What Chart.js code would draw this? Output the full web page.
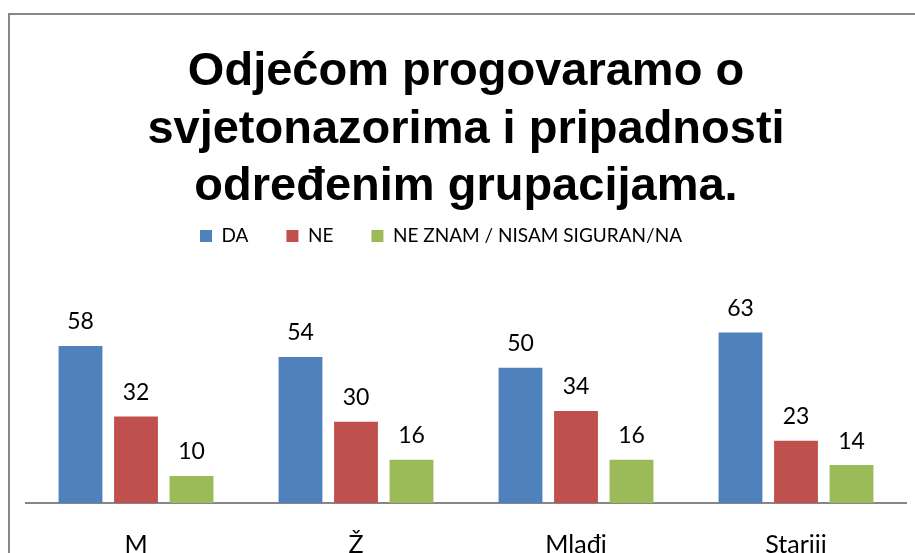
<!DOCTYPE html>
<html>
<head>
<meta charset="utf-8">
<script src="https://cdn.jsdelivr.net/npm/chart.js@4"></script>
<style>
  html, body { margin: 0; padding: 0; background: #fff; overflow: hidden; }
  canvas { display: block; }
</style>
</head>
<body>
<canvas id="surveyChart" width="915" height="560"></canvas>
<script>
const titleLines = ["Odjećom progovaramo o", "svjetonazorima i pripadnosti", "određenim grupacijama."];
const categories = ["M", "Ž", "Mlađi", "Stariji"];
const daValues = [58, 54, 50, 63];
const neValues = [32, 30, 34, 23];
const neZnamValues = [10, 16, 16, 14];

// value labels above bars
const valueLabels = {
  id: "valueLabels",
  afterDatasetsDraw(chart) {
    const ctx = chart.ctx;
    ctx.save();
    ctx.font = "23px Lato";
    ctx.fillStyle = "#000";
    ctx.textAlign = "center";
    ctx.textBaseline = "middle";
    chart.data.datasets.forEach((ds, i) => {
      chart.getDatasetMeta(i).data.forEach((bar, j) => {
        ctx.fillText(ds.data[j], bar.x, bar.y - 24);
      });
    });
    ctx.restore();
  },
};

// outer frame
const frame = {
  id: "frame",
  beforeDraw(chart) {
    const ctx = chart.ctx;
    ctx.save();
    ctx.strokeStyle = "#878787";
    ctx.lineWidth = 2;
    ctx.beginPath();
    ctx.moveTo(9, chart.height + 5);
    ctx.lineTo(9, 14);
    ctx.lineTo(chart.width + 5, 14);
    ctx.stroke();
    ctx.restore();
  },
};

// legend sits a bit left of centre in the original
const legendShift = {
  id: "legendShift",
  afterLayout(chart) {
    chart.legend.left -= 25;
    chart.legend.right -= 25;
  },
};

const chartCtx = document.getElementById("surveyChart").getContext("2d");
new Chart(chartCtx, {
  type: "bar",
  data: {
    labels: categories,
    datasets: [
      { label: "DA", data: daValues, backgroundColor: "#4F81BD" },
      { label: "NE", data: neValues, backgroundColor: "#C0504D" },
      { label: "NE ZNAM / NISAM SIGURAN/NA", data: neZnamValues, backgroundColor: "#9BBB59" },
    ],
  },
  options: {
    responsive: false,
    animation: false,
    layout: { padding: { left: 26, right: 9, top: 14, bottom: -27 } },
    datasets: {
      bar: { categoryPercentage: 0.757, barPercentage: 0.79 },
    },
    plugins: {
      title: {
        display: true,
        text: titleLines,
        color: "#000",
        font: { family: "Liberation Sans", size: 47, weight: "bold", lineHeight: 1.23 },
        padding: { top: 29, bottom: -28 },
      },
      legend: {
        display: true,
        position: "top",
        labels: {
          color: "#000",
          font: { family: "Lato", size: 19 },
          boxWidth: 12,
          boxHeight: 12,
          padding: 38,
        },
      },
      tooltip: { enabled: false },
    },
    scales: {
      x: {
        grid: { display: false, drawTicks: false },
        border: { display: true, color: "#868686", width: 2 },
        ticks: { color: "#000", font: { family: "Lato", size: 25 }, padding: 27 },
      },
      y: {
        display: false,
        min: 0,
        max: 91.5,
      },
    },
  },
  plugins: [valueLabels, frame, legendShift],
});
</script>
</body>
</html>
